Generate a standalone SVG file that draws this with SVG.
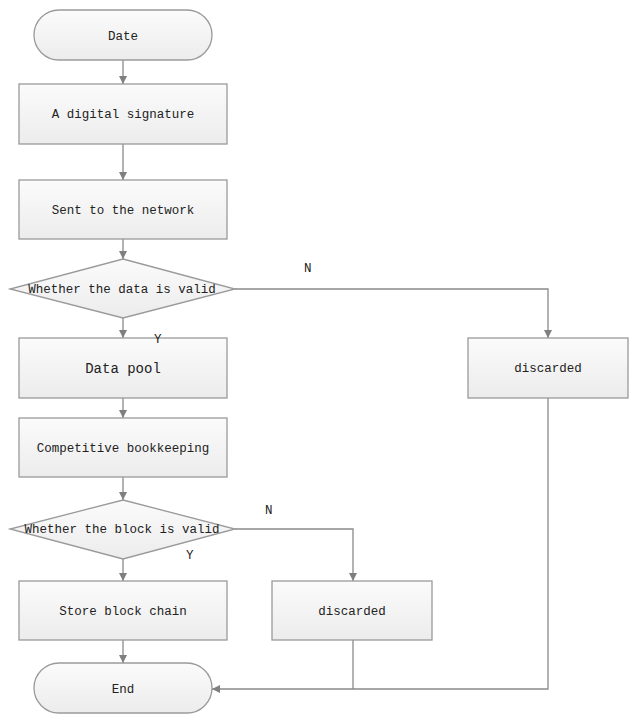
<svg xmlns="http://www.w3.org/2000/svg" width="629" height="714" viewBox="0 0 629 714">
<defs>
<linearGradient id="g" x1="0" y1="0" x2="0" y2="1">
<stop offset="0" stop-color="#fbfbfb"/>
<stop offset="1" stop-color="#ececec"/>
</linearGradient>
<marker id="a" viewBox="0 0 10 10" refX="10" refY="5" markerWidth="8" markerHeight="8" markerUnits="userSpaceOnUse" orient="auto">
<path d="M0,0 L10,5 L0,10 Z" fill="#7f7f7f"/>
</marker>
</defs>
<style>
.s{fill:url(#g);stroke:#9a9a9a;stroke-width:1.3}
.t{font-family:"Liberation Mono","DejaVu Sans Mono",monospace;font-size:12.5px;fill:#222;text-anchor:middle}
.l{font-family:"Liberation Mono","DejaVu Sans Mono",monospace;font-size:12.5px;fill:#222}
.c{fill:none;stroke:#8a8a8a;stroke-width:1.3}
</style>
<rect width="629" height="714" fill="#fff"/>
<g id="connectors">
<path class="c" d="M123,60 V84" marker-end="url(#a)"/>
<path class="c" d="M123,144 V180" marker-end="url(#a)"/>
<path class="c" d="M123,239 V259" marker-end="url(#a)"/>
<path class="c" d="M123,318 V338" marker-end="url(#a)"/>
<path class="c" d="M123,398 V418" marker-end="url(#a)"/>
<path class="c" d="M123,477 V500" marker-end="url(#a)"/>
<path class="c" d="M123,559 V581" marker-end="url(#a)"/>
<path class="c" d="M123,640 V663" marker-end="url(#a)"/>
<path class="c" d="M235,289 H548 V338" marker-end="url(#a)"/>
<path class="c" d="M235,529 H353 V581" marker-end="url(#a)"/>
<path class="c" d="M548,398 V689 H212" marker-end="url(#a)"/>
<path class="c" d="M353,640 V689"/>
</g>
<g id="n-date"><rect class="s" x="34" y="10" width="178" height="50" rx="25"/><text class="t" x="123" y="40">Date</text></g>
<g id="n-sign"><rect class="s" x="19" y="84" width="208" height="60"/><text class="t" x="123" y="118">A digital signature</text></g>
<g id="n-sent"><rect class="s" x="19" y="180" width="208" height="59"/><text class="t" x="123" y="214">Sent to the network</text></g>
<g id="n-valid1"><polygon class="s" points="123,259 235,289 123,318 10,289"/><text class="t" x="122" y="293">Whether the data is valid</text></g>
<g id="n-pool"><rect class="s" x="19" y="338" width="208" height="60"/><text class="t" x="123" y="373" style="font-size:14px">Data pool</text></g>
<g id="n-compete"><rect class="s" x="19" y="418" width="208" height="59"/><text class="t" x="123" y="452">Competitive bookkeeping</text></g>
<g id="n-valid2"><polygon class="s" points="123,500 235,529 123,559 10,529"/><text class="t" x="122" y="533">Whether the block is valid</text></g>
<g id="n-store"><rect class="s" x="19" y="581" width="208" height="59"/><text class="t" x="123" y="615">Store block chain</text></g>
<g id="n-end"><rect class="s" x="34" y="663" width="178" height="50" rx="25"/><text class="t" x="123" y="693">End</text></g>
<g id="n-disc1"><rect class="s" x="468" y="338" width="160" height="60"/><text class="t" x="548" y="372">discarded</text></g>
<g id="n-disc2"><rect class="s" x="272" y="581" width="160" height="59"/><text class="t" x="352" y="615">discarded</text></g>
<g id="labels">
<text class="l" x="304" y="272">N</text>
<text class="l" x="154" y="343">Y</text>
<text class="l" x="265" y="514">N</text>
<text class="l" x="186" y="559">Y</text>
</g>
</svg>
